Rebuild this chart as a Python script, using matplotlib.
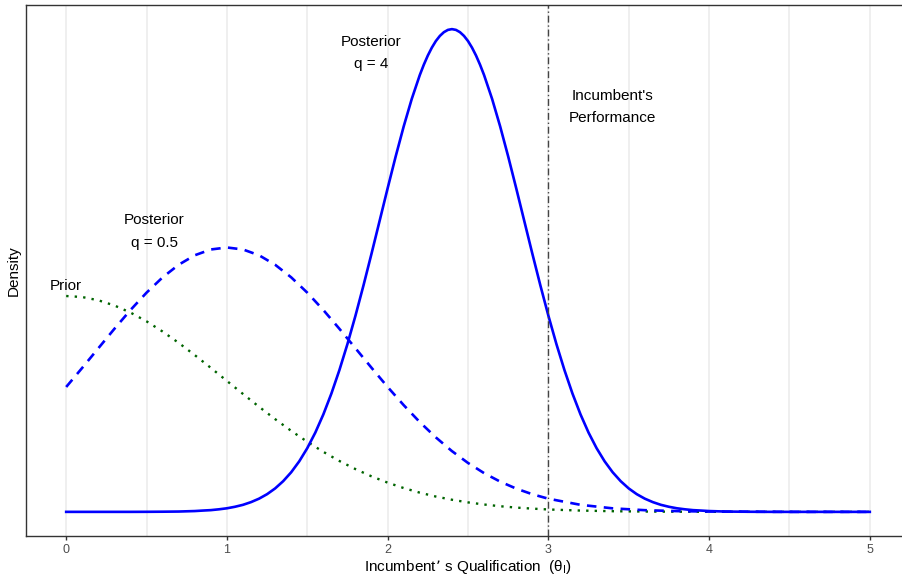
import matplotlib
matplotlib.use("Agg")
import matplotlib.pyplot as plt

plt.rcParams['font.family'] = ['Liberation Sans', 'DejaVu Sans']

# Prior density
prior_x = [0.0, 0.1, 0.2, 0.3, 0.4, 0.5, 0.6, 0.7, 0.8, 0.9, 1.0, 1.1, 1.2, 1.3, 1.4,
           1.5, 1.6, 1.7, 1.8, 1.9, 2.0, 2.1, 2.2, 2.3, 2.4, 2.5, 2.6, 2.7, 2.8, 2.9,
           3.0, 3.2, 3.4, 3.6, 3.8, 4.0, 4.5, 5.0]
prior_y = [0.3989, 0.3970, 0.3910, 0.3814, 0.3683, 0.3521, 0.3332, 0.3123, 0.2897, 0.2661,
           0.2420, 0.2179, 0.1942, 0.1714, 0.1497, 0.1295, 0.1109, 0.0940, 0.0790, 0.0656,
           0.0540, 0.0440, 0.0355, 0.0283, 0.0224, 0.0175, 0.0136, 0.0104, 0.0079, 0.0060,
           0.0044, 0.0024, 0.0012, 0.0006, 0.0003, 0.0001, 0.0000, 0.0000]

# Posterior with q = 0.5 (dashed blue)
post05_x = [0.0, 0.1, 0.2, 0.3, 0.4, 0.5, 0.6, 0.7, 0.8, 0.9, 1.0, 1.1, 1.2, 1.3, 1.4,
            1.5, 1.6, 1.7, 1.8, 1.9, 2.0, 2.1, 2.2, 2.3, 2.4, 2.5, 2.6, 2.7, 2.8, 2.9,
            3.0, 3.2, 3.4, 3.6, 3.8, 4.0, 4.5, 5.0]
post05_y = [0.2308, 0.2662, 0.3023, 0.3383, 0.3730, 0.4051, 0.4334, 0.4567, 0.4742, 0.4849,
            0.4886, 0.4849, 0.4742, 0.4567, 0.4334, 0.4051, 0.3730, 0.3383, 0.3023, 0.2662,
            0.2308, 0.1972, 0.1659, 0.1376, 0.1123, 0.0904, 0.0716, 0.0559, 0.0430, 0.0326,
            0.0243, 0.0130, 0.0065, 0.0031, 0.0014, 0.0006, 0.0000, 0.0000]

# Posterior with q = 4 (solid blue)
post4_x = [0.0, 0.4, 0.5, 0.6, 0.7, 0.8, 0.85, 0.9, 0.95, 1.0, 1.05, 1.1, 1.15, 1.2, 1.25,
           1.3, 1.35, 1.4, 1.45, 1.5, 1.55, 1.6, 1.65, 1.7, 1.75, 1.8, 1.85, 1.9, 1.95,
           2.0, 2.05, 2.1, 2.15, 2.2, 2.225, 2.25, 2.275, 2.3, 2.325, 2.35, 2.375, 2.4,
           2.425, 2.45, 2.475, 2.5, 2.525, 2.55, 2.575, 2.6, 2.65, 2.7, 2.75, 2.8, 2.85,
           2.9, 2.95, 3.0, 3.05, 3.1, 3.15, 3.2, 3.25, 3.3, 3.35, 3.4, 3.45, 3.5, 3.55,
           3.6, 3.65, 3.7, 3.75, 3.8, 3.85, 3.9, 3.95, 4.0, 4.1, 4.2, 4.3, 4.4, 5.0]
post4_y = [0.0000, 0.0000, 0.0001, 0.0003, 0.0006, 0.0015, 0.0024, 0.0032, 0.0047, 0.0066,
           0.0094, 0.0130, 0.0180, 0.0244, 0.0327, 0.0433, 0.0567, 0.0732, 0.0934, 0.1177,
           0.1465, 0.1801, 0.2186, 0.2621, 0.3102, 0.3627, 0.4188, 0.4775, 0.5377, 0.5980,
           0.6568, 0.7124, 0.7631, 0.8072, 0.8263, 0.8433, 0.8579, 0.8701, 0.8796, 0.8865,
           0.8907, 0.8921, 0.8907, 0.8865, 0.8796, 0.8701, 0.8579, 0.8433, 0.8263, 0.8072,
           0.7631, 0.7124, 0.6568, 0.5980, 0.5377, 0.4775, 0.4188, 0.3627, 0.3102, 0.2621,
           0.2186, 0.1801, 0.1465, 0.1177, 0.0934, 0.0732, 0.0567, 0.0433, 0.0327, 0.0244,
           0.0180, 0.0130, 0.0094, 0.0066, 0.0047, 0.0032, 0.0024, 0.0015, 0.0006, 0.0003,
           0.0001, 0.0000, 0.0000]

performance = 3.0
x_ticks = [0, 1, 2, 3, 4, 5]

fig = plt.figure(figsize=(9.02, 5.75), dpi=100)
ax = fig.add_axes([26 / 902, 39 / 575, 884 / 902, 531 / 575])

# vertical grid only, like the ggplot original
for g in [0, 0.5, 1, 1.5, 2, 2.5, 3, 3.5, 4, 4.5, 5]:
    ax.axvline(g, color="#ebebeb", linewidth=1.1, zorder=0)

ax.plot(prior_x, prior_y, color="#006400", linewidth=1.7, linestyle=(0, (1, 2.6)))
ax.plot(post05_x, post05_y, color="#0000ff", linewidth=1.9, linestyle=(0, (3.6, 2.8)))
ax.plot(post4_x, post4_y, color="#0000ff", linewidth=1.9)
ax.axvline(performance, color="#444444", linewidth=1.0, linestyle=(0, (5, 2, 1, 2)))

# labels
ax.text(0.0, 0.418, "Prior", ha="center", va="center", fontsize=11)
ax.text(0.55, 0.518, "Posterior\nq = 0.5", ha="center", va="center", fontsize=11, linespacing=1.75)
ax.text(1.9, 0.848, "Posterior\nq = 4", ha="center", va="center", fontsize=11, linespacing=1.75)
ax.text(3.40, 0.748, "Incumbent's\nPerformance", ha="center", va="center", fontsize=11, linespacing=1.75)

ymax = max(post4_y)
ax.set_xlim(-0.25, 5.25)
ax.set_ylim(-0.05 * ymax, 1.05 * ymax)
ax.set_xticks(x_ticks)
ax.set_xticklabels([str(t) for t in x_ticks])
ax.set_yticks([])
ax.tick_params(axis="x", length=3, width=1, color="#333333", labelcolor="#4d4d4d", labelsize=9, pad=3)

for s in ax.spines.values():
    s.set_color("#333333")
    s.set_linewidth(1.0)

ax.set_xlabel("Incumbent\u2019 s Qualification  (\u03b8$_\\mathregular{I}$)", fontsize=11, labelpad=1)
ax.set_ylabel("Density", fontsize=11, labelpad=4)

fig.savefig("out.png", dpi=100)
